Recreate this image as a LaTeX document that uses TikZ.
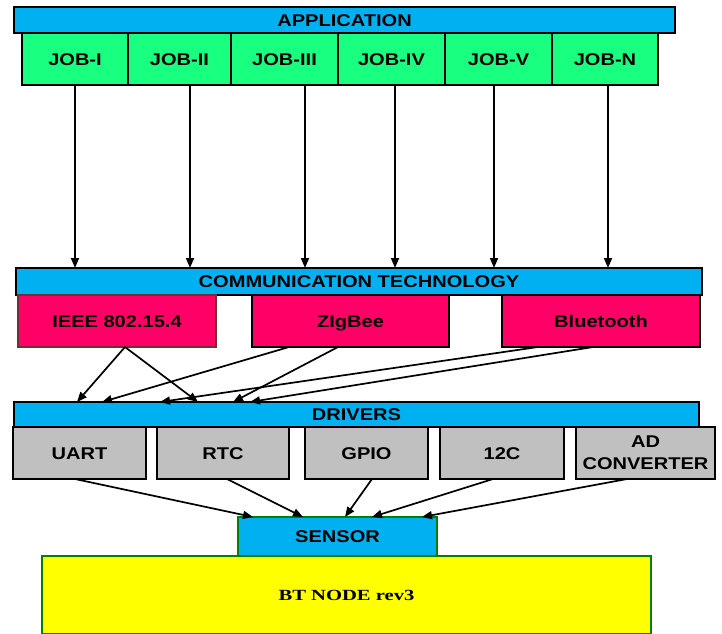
\documentclass[tikz,border=0pt]{standalone}
\usepackage{fontspec}
\usetikzlibrary{arrows.meta,calc}
\newfontfamily\labfont[FakeStretch=1.18]{Liberation Sans}
\newfontfamily\btfont[FakeStretch=1.33]{Liberation Serif}
\definecolor{barblue}{RGB}{0,176,240}
\definecolor{jobgreen}{RGB}{25,255,128}
\definecolor{techpink}{RGB}{255,0,102}
\definecolor{drvgrey}{RGB}{192,192,192}
\definecolor{nodeyellow}{RGB}{255,255,0}
\definecolor{edgegreen}{RGB}{0,128,0}
\definecolor{edgebrown}{RGB}{110,50,50}
\begin{document}
\begin{tikzpicture}[x=1pt,y=-1pt,
  lbl/.style={font=\labfont\bfseries\fontsize{17}{22}\selectfont, align=center},
  blk/.style={draw=black, line width=1.9pt, inner sep=0pt, outer sep=0pt, anchor=north west, lbl,
              text height=12.2pt, text depth=0pt},
  barbox/.style={blk, fill=barblue},
  jobbox/.style={blk, fill=jobgreen},
  techbox/.style={blk, fill=techpink},
  drvbox/.style={blk, fill=drvgrey},
  arr/.style={-{Triangle[length=10pt,width=8pt]}, line width=1.7pt}]
\clip (0,0) rectangle (722,633);
\fill[white] (0,0) rectangle (722,633);
% Application layer
\node[barbox, minimum width=661pt, minimum height=26pt] (app) at (14,7) {APPLICATION};
\node[jobbox, minimum width=106pt, minimum height=52pt] (j1) at (22,33) {JOB-I};
\node[jobbox, minimum width=103pt, minimum height=52pt] (j2) at (128,33) {JOB-II};
\node[jobbox, minimum width=107pt, minimum height=52pt] (j3) at (231,33) {JOB-III};
\node[jobbox, minimum width=107pt, minimum height=52pt] (j4) at (338,33) {JOB-IV};
\node[jobbox, minimum width=107pt, minimum height=52pt] (j5) at (445,33) {JOB-V};
\node[jobbox, minimum width=106pt, minimum height=52pt] (j6) at (552,33) {JOB-N};
% Communication layer
\node[barbox, minimum width=686pt, minimum height=27pt] (comm) at (16,268) {COMMUNICATION TECHNOLOGY};
\node[techbox, draw=edgebrown, line width=1.4pt, minimum width=198pt, minimum height=52pt] (ieee) at (18,295) {IEEE 802.15.4};
\node[techbox, minimum width=197pt, minimum height=52pt] (zig) at (252,295) {ZIgBee};
\node[techbox, minimum width=198pt, minimum height=52pt] (bt) at (502,295) {Bluetooth};
% Drivers layer
\node[barbox, minimum width=685pt, minimum height=25pt] (drv) at (14,402) {DRIVERS};
\node[drvbox, minimum width=133pt, minimum height=52pt] (uart) at (13,427) {UART};
\node[drvbox, minimum width=132pt, minimum height=52pt] (rtc) at (157,427) {RTC};
\node[drvbox, minimum width=123pt, minimum height=52pt] (gpio) at (305,427) {GPIO};
\node[drvbox, minimum width=124pt, minimum height=52pt] (itc) at (440,427) {12C};
\node[drvbox, minimum width=139pt, minimum height=52pt, text height={}, text depth={}] (adc) at (576,427) {AD\\CONVERTER};
% Sensor and node
\node[barbox, draw=edgegreen, minimum width=199pt, minimum height=39pt] (sensor) at (238,517) {SENSOR};
\node[blk, draw=edgegreen, fill=nodeyellow, minimum width=609pt, minimum height=78pt,
      text height=10.5pt, font=\btfont\bfseries\fontsize{15.5}{18}\selectfont] (btnode) at (42,556) {BT NODE rev3};
% Job arrows
\draw[arr] ($(j1.south west)+(53,0)$) -- ($(comm.north west)+(59,0)$);
\draw[arr] ($(j2.south west)+(62,0)$) -- ($(comm.north west)+(174,0)$);
\draw[arr] ($(j3.south west)+(74,0)$) -- ($(comm.north west)+(289,0)$);
\draw[arr] ($(j4.south west)+(57,0)$) -- ($(comm.north west)+(379,0)$);
\draw[arr] ($(j5.south west)+(49,0)$) -- ($(comm.north west)+(478,0)$);
\draw[arr] ($(j6.south west)+(56,0)$) -- ($(comm.north west)+(592,0)$);
% Technology arrows
\draw[arr] ($(ieee.south west)+(107,0)$) -- ($(drv.north west)+(63,0)$);
\draw[arr] ($(ieee.south west)+(107,0)$) -- ($(drv.north west)+(184,0)$);
\draw[arr] ($(zig.south west)+(37,0)$) -- ($(drv.north west)+(88,0)$);
\draw[arr] ($(zig.south west)+(86,0)$) -- ($(drv.north west)+(219,0)$);
\draw[arr] ($(bt.south west)+(36,0)$) -- ($(drv.north west)+(146,0)$);
\draw[arr] ($(bt.south west)+(91,0)$) -- ($(drv.north west)+(236,0)$);
% Driver arrows
\draw[arr] ($(uart.south west)+(62,0)$) -- ($(sensor.north west)+(15,0)$);
\draw[arr] ($(rtc.south west)+(70,0)$) -- ($(sensor.north west)+(65,0)$);
\draw[arr] ($(gpio.south west)+(67,0)$) -- ($(sensor.north west)+(107,0)$);
\draw[arr] ($(itc.south west)+(53,0)$) -- ($(sensor.north west)+(134,0)$);
\draw[arr] ($(adc.south west)+(51,0)$) -- ($(sensor.north west)+(184,0)$);
\end{tikzpicture}
\end{document}
